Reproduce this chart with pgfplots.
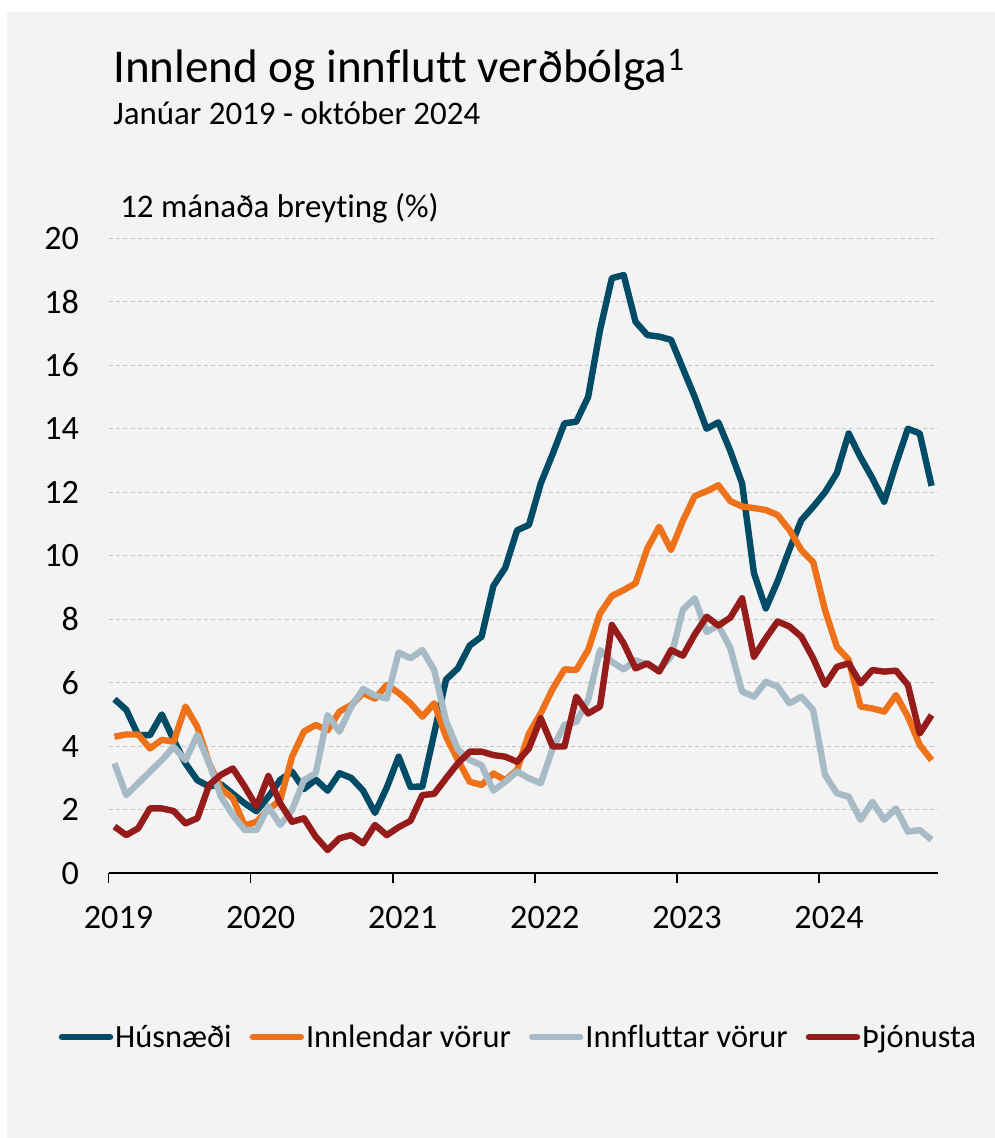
\documentclass[border=0pt]{standalone}
\usepackage{pgfplots}
\pgfplotsset{compat=1.18}
\usepackage{pgfplotstable}
\usepackage{fontspec}
\setmainfont{Carlito}[Ligatures={NoCommon}]
\definecolor{cH}{HTML}{004B66}
\definecolor{cI}{HTML}{EE7219}
\definecolor{cF}{HTML}{A7BBC7}
\definecolor{cT}{HTML}{961B1B}
\definecolor{bg}{HTML}{F3F3F3}
\definecolor{gridc}{HTML}{C4C4C4}

\pgfplotstableread{
i h inn imp thj
0 5.48 4.30 3.46 1.47
1 5.15 4.37 2.46 1.20
2 4.35 4.37 2.83 1.41
3 4.35 3.93 3.20 2.04
4 5.00 4.20 3.56 2.04
5 4.20 4.14 3.98 1.96
6 3.46 5.25 3.56 1.57
7 2.93 4.61 4.35 1.73
8 2.73 3.46 3.46 2.78
9 2.80 2.67 2.41 3.10
10 2.50 2.36 1.83 3.30
11 2.20 1.50 1.36 2.73
12 1.95 1.62 1.36 2.10
13 2.41 2.00 2.10 3.06
14 2.94 2.30 1.52 2.20
15 3.20 3.67 1.99 1.62
16 2.65 4.46 2.93 1.73
17 2.95 4.67 3.15 1.15
18 2.60 4.50 4.98 0.73
19 3.15 5.09 4.46 1.10
20 3.00 5.30 5.25 1.20
21 2.60 5.67 5.80 0.94
22 1.90 5.50 5.60 1.52
23 2.70 5.93 5.50 1.20
24 3.67 5.68 6.95 1.45
25 2.72 5.35 6.77 1.65
26 2.73 4.93 7.03 2.46
27 4.40 5.35 6.40 2.50
28 6.10 4.30 4.80 2.99
29 6.45 3.57 3.90 3.46
30 7.17 2.88 3.57 3.83
31 7.45 2.78 3.40 3.83
32 9.05 3.14 2.60 3.72
33 9.62 2.93 2.88 3.67
34 10.80 3.25 3.20 3.51
35 10.97 4.40 2.99 3.93
36 12.28 5.04 2.83 4.88
37 13.20 5.80 3.93 3.99
38 14.17 6.42 4.67 3.99
39 14.22 6.40 4.77 5.56
40 15.00 7.03 5.46 5.03
41 17.10 8.18 7.03 5.25
42 18.74 8.73 6.66 7.82
43 18.84 8.92 6.42 7.24
44 17.37 9.13 6.71 6.45
45 16.95 10.23 6.56 6.61
46 16.90 10.91 6.40 6.35
47 16.80 10.18 6.82 7.03
48 15.90 11.10 8.30 6.85
49 15.00 11.88 8.66 7.52
50 14.00 12.03 7.60 8.08
51 14.20 12.22 7.80 7.80
52 13.30 11.72 7.10 8.05
53 12.28 11.55 5.72 8.66
54 9.45 11.50 5.56 6.82
55 8.34 11.44 6.03 7.40
56 9.20 11.28 5.88 7.93
57 10.20 10.81 5.35 7.77
58 11.12 10.18 5.56 7.45
59 11.54 9.80 5.14 6.77
60 12.00 8.29 3.10 5.93
61 12.60 7.13 2.52 6.50
62 13.85 6.72 2.41 6.61
63 13.10 5.25 1.68 5.98
64 12.44 5.19 2.25 6.40
65 11.70 5.09 1.68 6.35
66 12.90 5.61 2.04 6.38
67 14.00 4.93 1.31 5.93
68 13.85 4.04 1.36 4.40
69 12.20 3.56 1.05 4.98
}\data

\begin{document}
\begin{tikzpicture}
\fill[white] (0pt,0pt) rectangle (746.25pt,-853.5pt);
\fill[bg] (5.25pt,-9pt) rectangle (746.25pt,-853.5pt);
\node[anchor=base west, inner sep=0pt, font=\fontsize{35.3}{40}\selectfont] at (84.75pt,-62.25pt) {Innlend og innflutt verðbólga\textsuperscript{1}};
\node[anchor=base west, inner sep=0pt, font=\fontsize{24.7}{28}\selectfont] at (84.75pt,-93pt) {Janúar 2019 - október 2024};
\node[anchor=base west, inner sep=0pt, font=\fontsize{24.7}{28}\selectfont] at (90pt,-163pt) {12 mánaða breyting (\%)};
\begin{axis}[
  at={(81.375pt,-654.9pt)}, anchor=south west,
  scale only axis, width=621.75pt, height=476.25pt,
  xmin=-0.5, xmax=69.5, ymin=0, ymax=20,
  ytick={0,2,...,20},
  xtick={-0.5,11.5,23.5,35.5,47.5,59.5},
  xticklabels={2019,2020,2021,2022,2023,2024},
  axis x line*=bottom, axis y line*=left,
  y axis line style={draw=none},
  x axis line style={black, line width=1.2pt},
  ytick style={draw=none},
  xtick style={black, line width=1.2pt},
  xtick align=outside,
  major tick length=7.5pt,
  ymajorgrids,
  grid style={gridc, line width=0.8pt, dash pattern=on 3pt off 2.5pt},
  tick label style={font=\fontsize{25.6}{29}\selectfont},
  /pgf/number format/assume math mode=true,
  yticklabel style={anchor=east, inner sep=0pt, xshift=-22pt},
  xticklabel style={anchor=north, inner sep=0pt, xshift=7.5pt, yshift=-17pt},
  every axis plot/.append style={line width=4.8pt, line join=round},
  legend columns=4,
  legend style={at={(0.4945,-0.258)}, anchor=center, draw=none, fill=none,
    font=\fontsize{24.3}{28}\selectfont,
    nodes={inner sep=1.5pt},
    /tikz/every even column/.append style={column sep=12pt}},
  legend image code/.code={\draw[#1, line width=4.8pt, line cap=round] (0pt,0pt) -- (36pt,0pt);},
]
\addplot[cH] table[x=i, y=h] {\data};
\addlegendentry{Húsnæði}
\addplot[cI] table[x=i, y=inn] {\data};
\addlegendentry{Innlendar vörur}
\addplot[cF] table[x=i, y=imp] {\data};
\addlegendentry{Innfluttar vörur}
\addplot[cT] table[x=i, y=thj] {\data};
\addlegendentry{Þjónusta}
\end{axis}
\end{tikzpicture}
\end{document}
